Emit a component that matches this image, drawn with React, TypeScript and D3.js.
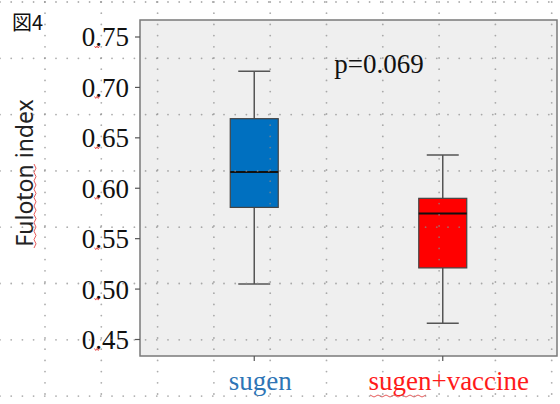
import * as d3 from 'd3';

// groups and five-number summaries
const groups = ['sugen', 'sugen+vaccine'];
const whiskerHigh = [0.716, 0.633];
const q3 = [0.669, 0.590];
const medians = [0.616, 0.575];
const q1 = [0.581, 0.521];
const whiskerLow = [0.505, 0.466];
const yTicks = [0.45, 0.5, 0.55, 0.6, 0.65, 0.7, 0.75];
const pLabel = 'p=0.069';

const W = 560;
const H = 404;
const fills = ['#0070c0', '#ff0000'];
const labelColors = ['#2e75b6', '#ff1a1a'];
const serif = "'Liberation Serif', 'Times New Roman', serif";

export default function App() {
  const panel = { left: 140, right: 557, top: 20, bottom: 356 };

  const y = d3.scaleLinear().domain([0.45, 0.75]).range([339.5, 37]);
  const x = d3.scaleBand().domain(groups).range([160, 537]).padding(0);

  const boxW = 48;
  const capW = 32;

  // background page grid (dotted, like a slide grid)
  const gridX = d3.range(45, W, 56.3);
  const gridY = d3.range(2, H, 56.3);
  const dots: [number, number][] = [];
  gridY.forEach(gy => d3.range(0, W, 11.2).forEach(dx => dots.push([dx, gy])));
  gridX.forEach(gx => d3.range(2, H, 11.2).forEach(dy => dots.push([gx, dy])));

  const squiggle = (cx: number, cy: number, w: number, n = 6) => {
    const pts = d3.range(0, n + 1).map(i => [cx - w / 2 + (i * w) / n, cy + (i % 2 ? 1 : -1)] as [number, number]);
    return d3.line()(pts) ?? '';
  };

  return (
    <svg
      width={W}
      height={H}
      style={{ position: 'absolute', left: 0, top: 0, background: '#fff' }}
    >
      <rect
        x={panel.left}
        y={panel.top}
        width={panel.right - panel.left}
        height={panel.bottom - panel.top}
        fill="#efefef"
        stroke="#7a7a7a"
        strokeWidth={1.5}
      />

      {/* y axis */}
      {yTicks.map(t => (
        <g key={t}>
          <line x1={panel.left - 5} x2={panel.left} y1={y(t)} y2={y(t)} stroke="#555" strokeWidth={1.2} />
          <text
            x={129}
            y={y(t)}
            dy="0.35em"
            textAnchor="end"
            fontFamily={serif}
            fontSize={27}
            fill="#111"
          >
            {t.toFixed(2)}
          </text>
          <path d={squiggle(97, y(t) + 10, 5, 4)} fill="none" stroke="#e03030" strokeWidth={0.8} />
        </g>
      ))}

      {/* boxes */}
      {groups.map((g, i) => {
        const cx = (x(g) ?? 0) + x.bandwidth() / 2;
        return (
          <g key={g}>
            <line x1={cx} x2={cx} y1={y(whiskerHigh[i])} y2={y(q3[i])} stroke="#555" strokeWidth={1.5} />
            <line x1={cx} x2={cx} y1={y(q1[i])} y2={y(whiskerLow[i])} stroke="#555" strokeWidth={1.5} />
            <line x1={cx - capW / 2} x2={cx + capW / 2} y1={y(whiskerHigh[i])} y2={y(whiskerHigh[i])} stroke="#555" strokeWidth={1.5} />
            <line x1={cx - capW / 2} x2={cx + capW / 2} y1={y(whiskerLow[i])} y2={y(whiskerLow[i])} stroke="#555" strokeWidth={1.5} />
            <rect
              x={cx - boxW / 2}
              y={y(q3[i])}
              width={boxW}
              height={y(q1[i]) - y(q3[i])}
              fill={fills[i]}
              stroke="#444"
              strokeWidth={1.2}
            />
            <line x1={cx - boxW / 2} x2={cx + boxW / 2} y1={y(medians[i])} y2={y(medians[i])} stroke="#111" strokeWidth={2} />
            <line x1={cx} x2={cx} y1={panel.bottom} y2={panel.bottom + 5} stroke="#555" strokeWidth={1.2} />
            <text
              x={cx + 6}
              y={390}
              textAnchor="middle"
              fontFamily={serif}
              fontSize={27}
              fill={labelColors[i]}
            >
              {g}
            </text>
          </g>
        );
      })}
      <path d={squiggle(398, 396, 56, 14)} fill="none" stroke="#e03030" strokeWidth={0.8} />

      <text x={379} y={73} textAnchor="middle" fontFamily={serif} fontSize={27} fill="#111">
        {pLabel}
      </text>

      <text
        transform="translate(33,173) rotate(-90)"
        textAnchor="middle"
        fontFamily="'Noto Sans', 'DejaVu Sans', sans-serif"
        fontSize={23}
        fill="#222"
      >
        Fuloton index
      </text>
      <path d={squiggle(0, 0, 84, 20)} transform="translate(35,206) rotate(-90)" fill="none" stroke="#e03030" strokeWidth={0.8} />

      <text x={12} y={30} fontFamily="'Noto Sans CJK JP', sans-serif" fontSize={20} fill="#111">
        図4
      </text>

      {/* dotted page grid on top */}
      {dots.map(([dx, dy], k) => (
        <circle key={k} cx={dx} cy={dy} r={0.9} fill="#8a8a8a" opacity={0.7} />
      ))}
    </svg>
  );
}
